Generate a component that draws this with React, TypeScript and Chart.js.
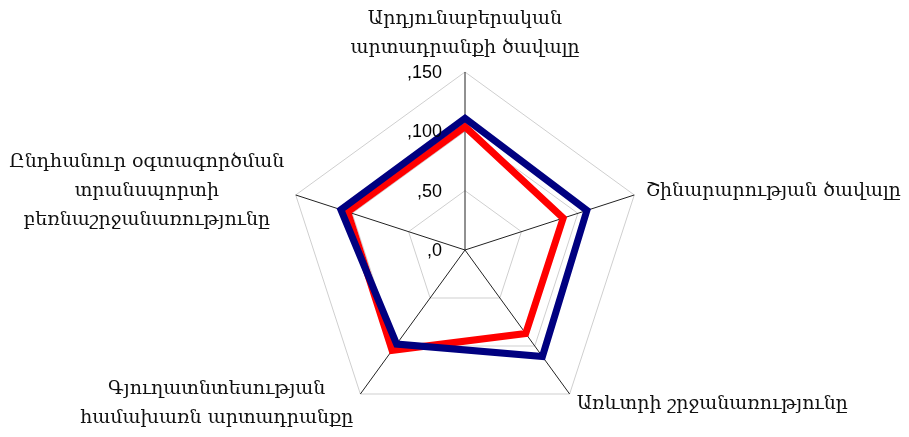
import React, { useEffect, useRef } from "react";
import { Chart, registerables } from "chart.js";

Chart.register(...registerables);

const categories: string[][] = [
  ["Արդյունաբերական", "արտադրանքի ծավալը"],
  ["Շինարարության ծավալը"],
  ["Առևտրի շրջանառությունը"],
  ["Գյուղատնտեսության", "համախառն արտադրանքը"],
  ["Ընդհանուր օգտագործման", "տրանսպորտի", "բեռնաշրջանառությունը"],
];
const seriesNavy: number[] = [111, 108, 111, 98, 110];
const seriesRed: number[] = [104, 87, 87, 104.5, 104];
const tickValues: number[] = [0, 50, 100, 150];
const tickLabels: string[] = [",0", ",50", ",100", ",150"];

const labelFont = '19px "DejaVu Serif"';
const tickFont = '18px "Liberation Sans"';
const lineHeight = 29;

const overlayPlugin = {
  id: "overlayLabels",
  afterDraw(chart: any) {
    const scale = chart.scales.r;
    const ctx = chart.ctx;
    ctx.save();
    ctx.font = tickFont;
    ctx.fillStyle = "#000";
    ctx.textAlign = "right";
    ctx.textBaseline = "middle";
    tickValues.forEach((v, i) => {
      const d = scale.getDistanceFromCenterForValue(v);
      ctx.fillText(tickLabels[i], scale.xCenter - 23, scale.yCenter - d + 1);
    });
    ctx.font = labelFont;
    ctx.fillStyle = "#111";
    const n = categories.length;
    categories.forEach((lines, i) => {
      const p = scale.getPointPosition(i, scale.drawingArea + 12);
      const angle = (i * 2 * Math.PI) / n;
      const s = Math.sin(angle);
      const widths = lines.map((l) => ctx.measureText(l).width);
      const bw = Math.max(...widths);
      let cx: number;
      if (Math.abs(s) < 0.05) cx = p.x;
      else if (s > 0) cx = p.x + bw / 2;
      else cx = p.x - bw / 2;
      const bh = lines.length * lineHeight;
      let top: number;
      if (i === 0) top = p.y - bh + 3;
      else top = p.y - bh / 2;
      ctx.textAlign = "center";
      ctx.textBaseline = "middle";
      lines.forEach((l, j) => {
        ctx.fillText(l, cx, top + lineHeight * j + lineHeight / 2);
      });
    });
    ctx.restore();
  },
};

export default function App() {
  const ref = useRef<HTMLCanvasElement | null>(null);
  useEffect(() => {
    if (!ref.current) return;
    const chart = new Chart(ref.current, {
      type: "radar",
      data: {
        labels: categories.map((c) => c.join(" ")),
        datasets: [
          {
            data: seriesNavy,
            borderColor: "#000080",
            backgroundColor: "rgba(0,0,0,0)",
            borderWidth: 7,
            pointRadius: 0,
            pointHoverRadius: 0,
            borderJoinStyle: "miter",
            fill: false,
          },
          {
            data: seriesRed,
            borderColor: "#ff0000",
            backgroundColor: "rgba(0,0,0,0)",
            borderWidth: 7,
            pointRadius: 0,
            pointHoverRadius: 0,
            borderJoinStyle: "miter",
            fill: false,
          },
        ],
      },
      options: {
        animation: false,
        responsive: true,
        maintainAspectRatio: false,
        layout: { padding: { left: 279, right: 258, top: 64, bottom: 1 } },
        plugins: { legend: { display: false }, tooltip: { enabled: false } },
        scales: {
          r: {
            min: 0,
            max: 150,
            ticks: { display: false, stepSize: 50 },
            pointLabels: { display: false },
            grid: { color: "#cfcfcf", lineWidth: 1 },
            angleLines: { color: "#222", lineWidth: 1 },
          },
        },
      },
      plugins: [overlayPlugin],
    });
    return () => chart.destroy();
  }, []);
  return (
    <div style={{ width: 893, height: 421, position: "relative" }}>
      <canvas ref={ref} />
    </div>
  );
}
